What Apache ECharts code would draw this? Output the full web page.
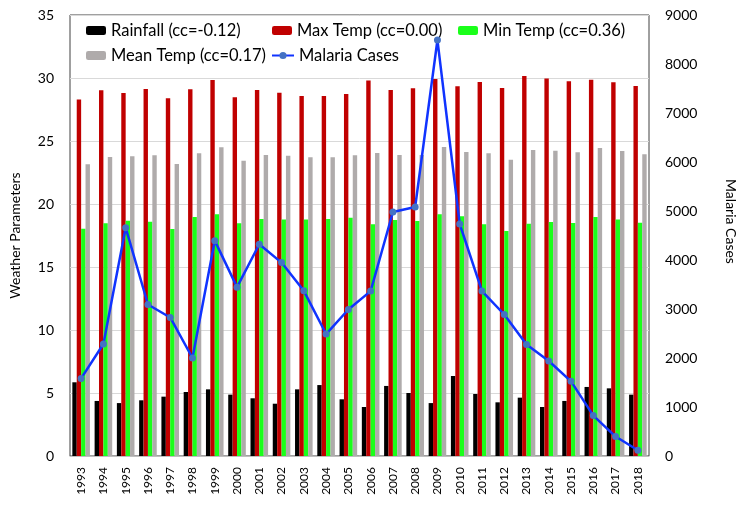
<!DOCTYPE html>
<html><head><meta charset="utf-8">
<script src="https://cdn.jsdelivr.net/npm/echarts@6/dist/echarts.min.js"></script>
<style>html,body{margin:0;padding:0;background:#fff}#c{width:751px;height:506px}</style>
</head><body><div id="c"></div>
<script>
const years = ['1993','1994','1995','1996','1997','1998','1999','2000','2001','2002','2003','2004','2005','2006','2007','2008','2009','2010','2011','2012','2013','2014','2015','2016','2017','2018'];
const rainfall = [5.85,4.37,4.2,4.42,4.71,5.08,5.29,4.87,4.58,4.15,5.29,5.63,4.5,3.89,5.56,5.0,4.2,6.35,4.92,4.26,4.63,3.89,4.37,5.48,5.37,4.87];
const maxTemp = [28.3,29.02,28.81,29.13,28.39,29.1,29.84,28.47,29.05,28.83,28.57,28.57,28.73,29.81,29.05,29.18,29.92,29.34,29.68,29.2,30.16,29.97,29.74,29.87,29.66,29.37];
const minTemp = [18.04,18.47,18.67,18.6,18.02,18.97,19.18,18.47,18.81,18.76,18.76,18.81,18.91,18.39,18.73,18.65,19.18,19.02,18.39,17.86,18.44,18.57,18.49,18.97,18.76,18.52];
const meanTemp = [23.15,23.73,23.78,23.86,23.17,24.02,24.5,23.44,23.89,23.83,23.71,23.71,23.86,24.05,23.89,23.89,24.52,24.13,24.02,23.52,24.29,24.23,24.1,24.44,24.21,23.94];
const malaria = [1584,2285,4660,3092,2827,2000,4395,3446,4322,3947,3371,2489,2990,3365,4980,5081,8489,4735,3365,2888,2277,1939,1523,825,397,118];
const names = ['Rainfall (cc=-0.12)','Max Temp (cc=0.00)','Min Temp (cc=0.36)','Mean Temp (cc=0.17)','Malaria Cases'];

const FONT = 'Lato';
const chart = echarts.init(document.getElementById('c'), null, {renderer:'canvas'});
function lg(name, left, top, w){
  return {data:[name], left:left, top:top, padding:0, itemWidth:w||20, itemHeight:9,
    textStyle:{fontFamily:FONT, fontSize:16.5, color:'#000'}, selectedMode:false};
}
chart.setOption({
  animation:false,
  textStyle:{fontFamily:FONT},
  grid:{left:70, right:102, top:15, bottom:50, show:true, borderColor:'#404040', borderWidth:1, backgroundColor:'transparent'},
  legend:[lg(names[0],86,22), lg(names[1],272,22), lg(names[2],458,22), lg(names[3],86,47), lg(names[4],271,47,22)],
  xAxis:{type:'category', data:years, boundaryGap:true,
    axisLine:{lineStyle:{color:'#bfbfbf'}}, axisTick:{show:false},
    axisLabel:{rotate:90, fontSize:12, color:'#000', fontFamily:FONT, margin:11, interval:0}},
  yAxis:[
    {type:'value', min:0, max:35, interval:5, name:'Weather Parameters', nameLocation:'middle', nameGap:48,
     nameTextStyle:{fontFamily:FONT, fontSize:14, color:'#000'},
     axisLine:{show:false}, axisTick:{show:false},
     axisLabel:{fontSize:14, color:'#000', fontFamily:FONT, margin:16},
     splitLine:{lineStyle:{color:'#d9d9d9'}}},
    {type:'value', min:0, max:9000, interval:1000, name:'Malaria Cases', nameLocation:'middle', nameGap:75, nameRotate:-90,
     nameTextStyle:{fontFamily:FONT, fontSize:14, color:'#000', padding:[0,28,0,0]},
     axisLine:{show:false}, axisTick:{show:false},
     axisLabel:{fontSize:14, color:'#000', fontFamily:FONT, margin:16, formatter:function(v){return String(v);}},
     splitLine:{show:false}}
  ],
  series:[
    {name:names[0], type:'bar', data:rainfall, itemStyle:{color:'#000000'}, barGap:'0%', barCategoryGap:'21%'},
    {name:names[1], type:'bar', data:maxTemp, itemStyle:{color:'#C00000'}, barGap:'0%', barCategoryGap:'21%'},
    {name:names[2], type:'bar', data:minTemp, itemStyle:{color:'#1AFF1A'}, barGap:'0%', barCategoryGap:'21%'},
    {name:names[3], type:'bar', data:meanTemp, itemStyle:{color:'#AFABAB'}, barGap:'0%', barCategoryGap:'21%'},
    {name:names[4], type:'line', yAxisIndex:1, data:malaria, z:5, symbol:'circle', symbolSize:7,
     lineStyle:{color:'#1033FF', width:2.5}, itemStyle:{color:'#4472C4'}}
  ]
});
</script></body></html>
